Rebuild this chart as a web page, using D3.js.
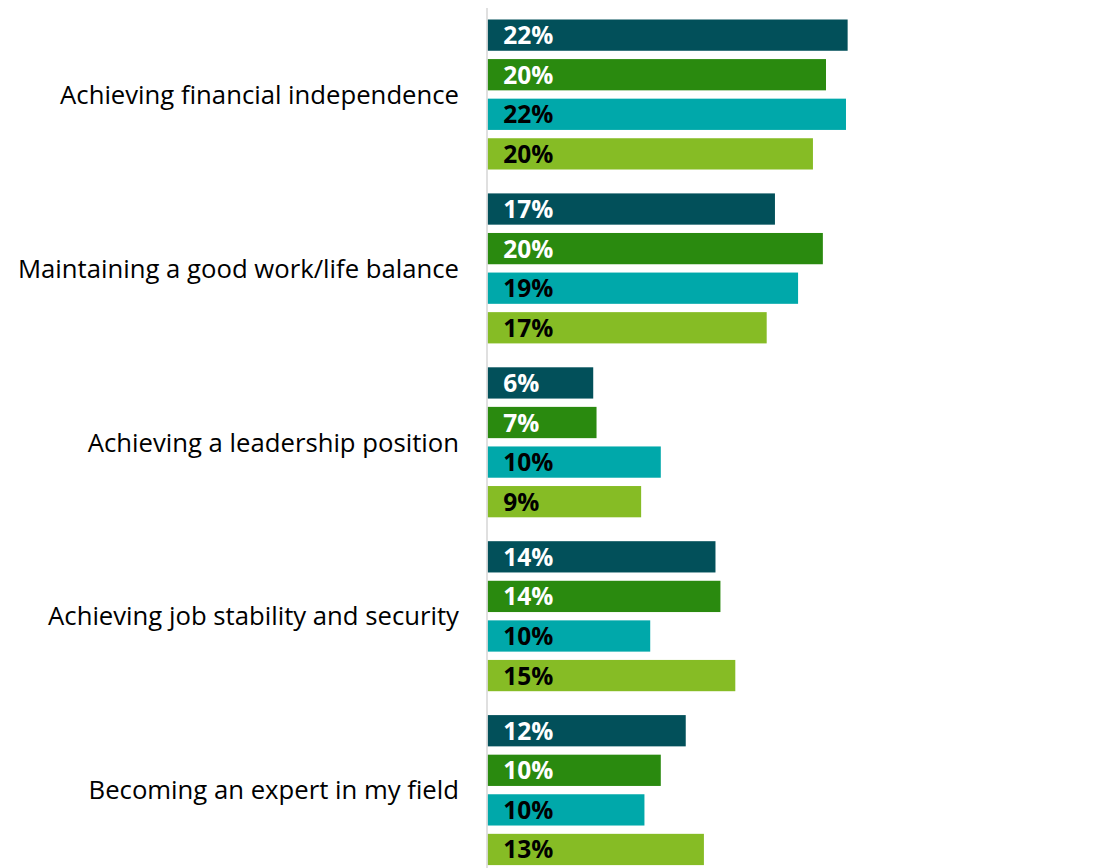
<!DOCTYPE html>
<html>
<head>
<meta charset="utf-8">
<script src="https://cdn.jsdelivr.net/npm/d3@7"></script>
<style>
  html, body { margin: 0; padding: 0; background: #fff; }
  svg { display: block; }
  .cat-axis text { font-family: "Open Sans", sans-serif; font-size: 25.7px; fill: #000; }
  .bar-label { font-family: "Open Sans", sans-serif; font-size: 24.5px; font-weight: bold; }
</style>
</head>
<body>
<svg id="chart" width="1094" height="868"></svg>
<script>
// Categories (one group of bars each) and the four series, in percent
const categories = [
  "Achieving financial independence",
  "Maintaining a good work/life balance",
  "Achieving a leadership position",
  "Achieving job stability and security",
  "Becoming an expert in my field"
];
const seriesNames = ["s1", "s2", "s3", "s4"];
const s1 = [21.8, 17.4, 6.4, 13.8, 12.0];
const s2 = [20.49, 20.3, 6.6, 14.1, 10.49];
const s3 = [21.7, 18.8, 10.49, 9.85, 9.5];
const s4 = [19.7, 16.9, 9.3, 15.0, 13.1];
const seriesColors = ["#02505a", "#2a8a0f", "#00a8aa", "#86bc25"];
const labelColors = ["#ffffff", "#ffffff", "#000000", "#000000"];

const seriesValues = [s1, s2, s3, s4];
const rows = [];
categories.forEach((c, i) => {
  seriesNames.forEach((s, j) => {
    rows.push({ category: c, series: s, index: j, value: seriesValues[j][i] });
  });
});

const svg = d3.select("#chart");

const x0 = 487.5;
const x = d3.scaleLinear().domain([0, 30]).range([x0, x0 + 495.6]);

const y = d3.scaleBand()
  .domain(categories)
  .range([7.55, 877.05])
  .paddingInner(0.1374)
  .paddingOuter(0.0687);

const ySeries = d3.scaleBand()
  .domain(seriesNames)
  .range([0, y.bandwidth()])
  .paddingInner(0.21)
  .paddingOuter(0);

// Bars
const groups = svg.append("g").selectAll("g.bar")
  .data(rows)
  .join("g")
  .attr("class", "bar")
  .attr("transform", d => `translate(0,${y(d.category) + ySeries(d.series)})`);

groups.append("rect")
  .attr("x", x(0))
  .attr("y", 0)
  .attr("width", d => x(d.value) - x(0))
  .attr("height", ySeries.bandwidth())
  .attr("fill", d => seriesColors[d.index]);

// Value labels inside the bars, near the base
groups.append("text")
  .attr("class", "bar-label")
  .attr("x", x(0) + 15.8)
  .attr("y", ySeries.bandwidth() / 2 + 9)
  .attr("fill", d => labelColors[d.index])
  .text(d => Math.round(d.value) + "%");

// Category axis with a light grey baseline
const axis = svg.append("g")
  .attr("class", "cat-axis")
  .attr("transform", "translate(486.5,0)")
  .call(d3.axisLeft(y).tickSize(0).tickPadding(27.5));

axis.select(".domain")
  .attr("stroke", "#d9d9d9")
  .attr("stroke-width", 1.6);

axis.selectAll(".tick text")
  .attr("dy", "0.36em");
</script>
</body>
</html>
